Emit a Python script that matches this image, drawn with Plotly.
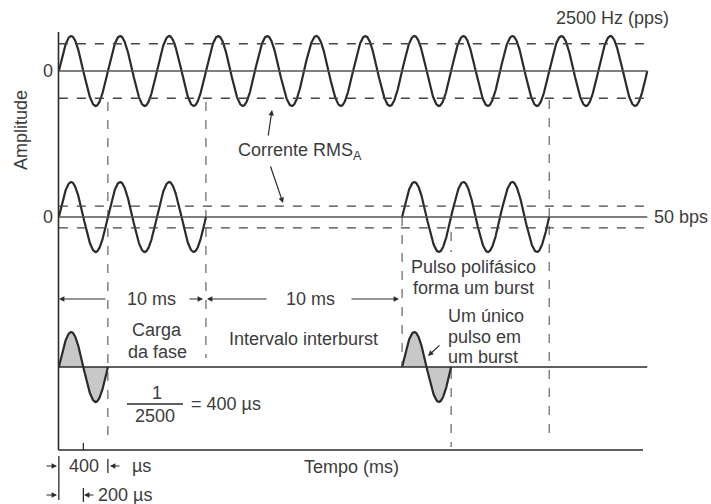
import numpy as np
import plotly.graph_objects as go

# ---------------- data ----------------
W, H = 711, 504
carrier_hz = 2500                 # 2500 Hz (pps)
burst_rate_bps = 50               # 50 bps
period_us = 1e6 / carrier_hz      # 400 µs
continuous_cycles = 12            # cycles drawn in the top trace
burst_cycles = 3                  # cycles drawn per burst (schematic)
burst_start_cycles = [0, 7]       # burst starts, in carrier periods (schematic)
pulse_cycles = 1                  # single pulse shown per burst
rms_continuous = 0.78             # RMS level, continuous current (relative)
rms_burst = 0.31                  # RMS level, burst current (relative)

# ---------------- layout helpers ----------------
panel_zero_px = [71, 217, 367]
amp_px = 35
x_range_us = [-480, 5320]
INK = "#2b2b2b"
TXT = "#3c3c3c"
FONT = "Liberation Sans, Arial, sans-serif"
FS = 18


def xp(px):
    return px / W


def yp(py):
    return 1 - py / H


def wave(start_us, n_cycles):
    t = np.linspace(start_us, start_us + n_cycles * period_us, 240 * n_cycles + 1)
    return t, np.sin(2 * np.pi * (t - start_us) / period_us)


fig = go.Figure()

# top continuous waveform
t, y = wave(0, continuous_cycles)
fig.add_trace(go.Scatter(x=t, y=y, mode="lines", line=dict(color=INK, width=2.2),
                         yaxis="y", hoverinfo="skip"))

# bursts
for s in burst_start_cycles:
    t, y = wave(s * period_us, burst_cycles)
    fig.add_trace(go.Scatter(x=t, y=y, mode="lines", line=dict(color=INK, width=2.2),
                             yaxis="y2", hoverinfo="skip"))

# single pulses (filled phase charge)
for s in burst_start_cycles:
    t, y = wave(s * period_us, pulse_cycles)
    fig.add_trace(go.Scatter(x=t, y=y, mode="lines", line=dict(color=INK, width=2.2),
                             fill="tozeroy", fillcolor="#c8c8c8",
                             yaxis="y3", hoverinfo="skip"))

end_us = continuous_cycles * period_us
shapes = []


def seg_paper(x0, y0, x1, y1, width=1.4, color=INK, dash="solid"):
    shapes.append(dict(type="line", xref="paper", yref="paper",
                       x0=xp(x0), y0=yp(y0), x1=xp(x1), y1=yp(y1),
                       line=dict(color=color, width=width, dash=dash)))


def vline_t(tu, y0, y1, width=1.0, dash="dash"):
    shapes.append(dict(type="line", xref="x", yref="paper",
                       x0=tu, x1=tu, y0=yp(y0), y1=yp(y1),
                       line=dict(color="#444", width=width, dash=dash)))


# axes
seg_paper(58.5, 32, 58.5, 450, width=1.6)
seg_paper(58.5, 450, 643, 450, width=1.6)

# zero lines + RMS dashed lines
for ax, rms in (("y", rms_continuous), ("y2", rms_burst), ("y3", None)):
    shapes.append(dict(type="line", xref="x", yref=ax, x0=0, x1=end_us, y0=0, y1=0,
                       line=dict(color="#555" if ax != "y3" else INK, width=1.5)))
    if rms is not None:
        for r in (rms, -rms):
            shapes.append(dict(type="line", xref="x", yref=ax, x0=0, x1=end_us, y0=r, y1=r,
                               line=dict(color="#444", width=1.4, dash="dash")))

# vertical dashed markers (cycle / burst boundaries)
b0 = burst_start_cycles[0] * period_us
b1 = burst_start_cycles[1] * period_us
vline_t(b0 + pulse_cycles * period_us, 102, 440)
vline_t(b0 + burst_cycles * period_us, 102, 358)
vline_t(b1, 217, 367)
vline_t(b1 + pulse_cycles * period_us, 232, 252)
vline_t(b1 + pulse_cycles * period_us, 370, 447)
vline_t(b1 + burst_cycles * period_us, 100, 440)

# half-period tick on time axis
shapes.append(dict(type="line", xref="x", yref="paper", x0=period_us / 2, x1=period_us / 2,
                   y0=yp(443), y1=yp(450), line=dict(color=INK, width=1.3)))
# dimension bars at bottom
shapes.append(dict(type="line", xref="x", yref="paper", x0=0, x1=0,
                   y0=yp(456), y1=yp(500), line=dict(color=INK, width=1.3)))
shapes.append(dict(type="line", xref="x", yref="paper", x0=period_us, x1=period_us,
                   y0=yp(459), y1=yp(473), line=dict(color=INK, width=1.3)))
shapes.append(dict(type="line", xref="x", yref="paper", x0=period_us / 2, x1=period_us / 2,
                   y0=yp(488), y1=yp(502), line=dict(color=INK, width=1.3)))
# fraction bar
seg_paper(127, 404, 183, 404, width=1.3)

annotations = []


def arrow(hx, hy, tx, ty):
    annotations.append(dict(xref="paper", yref="paper", x=xp(hx), y=yp(hy),
                            ax=tx - hx, ay=ty - hy, axref="pixel", ayref="pixel",
                            text="", showarrow=True, arrowhead=2, arrowsize=0.9,
                            arrowwidth=1.2, arrowcolor=INK, standoff=0, startstandoff=0))


def label(txt, x, y, xanchor="center", size=FS, angle=0):
    annotations.append(dict(xref="paper", yref="paper", x=xp(x), y=yp(y), text=txt,
                            showarrow=False, xanchor=xanchor, yanchor="middle",
                            textangle=angle, font=dict(family=FONT, size=size, color=TXT)))


# arrows
arrow(59, 299, 107, 299)
arrow(203, 299, 188, 299)
arrow(207, 299, 268, 299)
arrow(399, 299, 350, 299)
arrow(57, 466, 45, 466)
arrow(110, 466, 121, 466)
arrow(57, 495, 45, 495)
arrow(84, 495, 95, 495)
arrow(272, 110, 268, 137)
arrow(283, 203, 270, 165)
arrow(428, 356, 441, 344)

# texts
label(f"{carrier_hz} Hz (pps)", 612, 18)
label(f"{burst_rate_bps} bps", 652, 217, xanchor="left")
label("0", 48, 71)
label("0", 48, 217)
label("Amplitude", 21, 130, angle=-90)
label("Corrente RMS<sub>A</sub>", 236, 151, xanchor="left")
label("10 ms", 151, 299)
label("10 ms", 310, 299)
label("Carga", 157, 330)
label("da fase", 157, 352)
label("Intervalo interburst", 227, 339, xanchor="left")
label("Pulso polifásico", 473, 267)
label("forma um burst", 473, 288)
label("Um único", 446, 316, xanchor="left")
label("pulso em", 446, 337, xanchor="left")
label("um burst", 446, 357, xanchor="left")
label("1", 157, 393)
label(f"{carrier_hz}", 155, 416)
label(f"= {int(period_us)} µs", 189, 404, xanchor="left")
label(f"{int(period_us)}", 84, 466)
label("µs", 141, 466)
label(f"{int(period_us / 2)} µs", 96, 495, xanchor="left")
label("Tempo (ms)", 351, 467)


def yrange(z):
    return [(z - H) / amp_px, z / amp_px]


hidden = dict(visible=False, showgrid=False, zeroline=False, fixedrange=True)
fig.update_layout(
    width=W, height=H,
    margin=dict(l=0, r=0, t=0, b=0),
    paper_bgcolor="white", plot_bgcolor="white",
    showlegend=False,
    xaxis=dict(range=x_range_us, domain=[0, 1], **hidden),
    yaxis=dict(range=yrange(panel_zero_px[0]), domain=[0, 1], **hidden),
    yaxis2=dict(range=yrange(panel_zero_px[1]), overlaying="y", **hidden),
    yaxis3=dict(range=yrange(panel_zero_px[2]), overlaying="y", **hidden),
    shapes=shapes,
    annotations=annotations,
)

fig.write_html(
    "out.html",
    config={"displayModeBar": False},
    post_script="document.body.style.margin='0';document.body.style.overflow='hidden';",
)
